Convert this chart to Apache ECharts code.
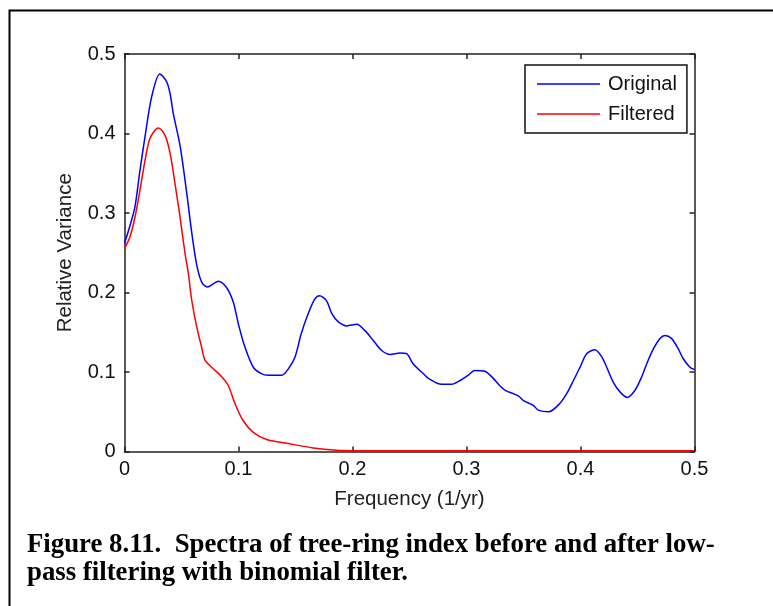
<!DOCTYPE html>
<html>
<head>
<meta charset="utf-8">
<script src="https://cdn.jsdelivr.net/npm/echarts@6/dist/echarts.min.js"></script>
<style>
html,body{margin:0;padding:0;background:#fff;}
#c{width:773px;height:606px;}
</style>
</head>
<body>
<div id="c"></div>
<script>
// Data
var origFreq = [0,0.005,0.0092,0.0136,0.018,0.0238,0.031,0.037,0.040,0.0428,0.0487,0.0546,0.059,0.0633,0.0677,0.0727,0.0823,0.0896,0.0954,0.0998,0.1057,0.113,0.12,0.126,0.138,0.1437,0.1496,0.155,0.161,0.167,0.171,0.177,0.182,0.1876,0.195,0.2037,0.211,0.218,0.2256,0.233,0.2417,0.2475,0.2533,0.2636,0.2665,0.278,0.287,0.294,0.3016,0.307,0.316,0.3235,0.329,0.334,0.3454,0.350,0.3586,0.363,0.372,0.3816,0.388,0.3937,0.3996,0.4054,0.4127,0.4186,0.423,0.4288,0.4346,0.441,0.4478,0.4537,0.458,0.4639,0.4697,0.474,0.48,0.4858,0.490,0.496,0.5];
var origVar = [0.262,0.285,0.308,0.354,0.396,0.446,0.475,0.465,0.450,0.425,0.385,0.325,0.275,0.235,0.213,0.207,0.214,0.206,0.188,0.161,0.131,0.106,0.098,0.096,0.096,0.104,0.119,0.148,0.173,0.192,0.196,0.190,0.173,0.163,0.158,0.160,0.152,0.140,0.127,0.122,0.124,0.123,0.110,0.096,0.092,0.0845,0.0845,0.089,0.096,0.102,0.101,0.092,0.083,0.077,0.070,0.064,0.058,0.052,0.050,0.060,0.073,0.089,0.106,0.123,0.128,0.119,0.106,0.087,0.075,0.068,0.077,0.094,0.110,0.129,0.142,0.146,0.142,0.129,0.117,0.106,0.103];
var filtFreq = [0,0.0048,0.0092,0.0136,0.018,0.0224,0.0297,0.0355,0.040,0.0443,0.0487,0.053,0.056,0.059,0.0633,0.0677,0.0706,0.078,0.0853,0.091,0.097,0.104,0.113,0.1247,0.142,0.1656,0.186,0.2,0.3,0.4,0.5];
var filtVar = [0.255,0.270,0.295,0.329,0.366,0.394,0.407,0.398,0.375,0.337,0.295,0.250,0.224,0.190,0.157,0.131,0.115,0.104,0.094,0.083,0.060,0.039,0.024,0.015,0.0105,0.0045,0.0015,0.001,0.001,0.001,0.001];
var seriesNames = ['Original','Filtered'];
var xTitle = 'Frequency (1/yr)';
var yTitle = 'Relative Variance';
var captionLines = ['Figure 8.11.  Spectra of tree-ring index before and after low-','pass filtering with binomial filter.'];

function pairs(xs, ys){ return xs.map(function(x,i){ return [x, ys[i]]; }); }
function fmt(v){ return v === 0 ? '0' : String(Math.round(v*10)/10); }

var axisCol = '#222';
var font = 'Liberation Sans, Arial, sans-serif';
var tickStyle = {show:true, inside:true, length:5, lineStyle:{color:axisCol, width:1.5}};
var lineStyleAx = {show:true, onZero:false, lineStyle:{color:axisCol, width:1.5}};
var chart = echarts.init(document.getElementById('c'), null, {renderer:'canvas'});
chart.setOption({
  animation:false,
  backgroundColor:'#fff',
  grid:{left:124.5, right:78.5, top:54, bottom:154.5, show:false},
  xAxis:[{
    type:'value', min:0, max:0.5, interval:0.1, position:'bottom',
    name:xTitle, nameLocation:'middle', nameGap:37,
    nameTextStyle:{fontFamily:font, fontSize:20.5, color:'#222'},
    axisLine:lineStyleAx, axisTick:tickStyle,
    axisLabel:{fontFamily:font, fontSize:20, color:'#111', margin:8, formatter:fmt},
    splitLine:{show:false}
  },{
    type:'value', min:0, max:0.5, interval:0.1, position:'top',
    axisLine:lineStyleAx, axisTick:tickStyle,
    axisLabel:{show:false}, splitLine:{show:false}
  }],
  yAxis:[{
    type:'value', min:0, max:0.5, interval:0.1, position:'left',
    name:yTitle, nameLocation:'middle', nameGap:49, nameRotate:90,
    nameTextStyle:{fontFamily:font, fontSize:20.5, color:'#222'},
    axisLine:lineStyleAx, axisTick:tickStyle,
    axisLabel:{fontFamily:font, fontSize:20, color:'#111', margin:9, formatter:fmt},
    splitLine:{show:false}
  },{
    type:'value', min:0, max:0.5, interval:0.1, position:'right',
    axisLine:lineStyleAx, axisTick:tickStyle,
    axisLabel:{show:false}, splitLine:{show:false}
  }],
  legend:{
    orient:'vertical', left:525, top:65,
    backgroundColor:'#fff', borderColor:'#111', borderWidth:1.5,
    padding:[9,10,9,12], itemGap:10, itemWidth:63, itemHeight:1.6,
    icon:'rect',
    textStyle:{fontFamily:font, fontSize:20, color:'#111', padding:[0,0,0,3]},
    data:seriesNames
  },
  series:[
    {name:seriesNames[0], type:'line', data:pairs(origFreq, origVar), symbol:'none', smooth:0.3,
     lineStyle:{color:'#0000ff', width:1.5}, itemStyle:{color:'#0000ff'}, z:5},
    {name:seriesNames[1], type:'line', data:pairs(filtFreq, filtVar), symbol:'none', smooth:0.3,
     lineStyle:{color:'#ff0000', width:1.5}, itemStyle:{color:'#ff0000'}, z:6},
    {name:'_frame', type:'line', xAxisIndex:1, yAxisIndex:1, data:[], symbol:'none', silent:true}
  ],
  graphic:[
    {type:'rect', left:7, top:8, shape:{x:0,y:0,width:900,height:800}, style:{fill:null, stroke:'#000', lineWidth:2}, silent:true, z:-1},
    {type:'text', x:27, y:532, style:{text:captionLines[0], font:'bold 26.8px "Liberation Serif", "Times New Roman", serif', fill:'#000'}},
    {type:'text', x:27, y:560, style:{text:captionLines[1], font:'bold 26.8px "Liberation Serif", "Times New Roman", serif', fill:'#000'}}
  ]
});
</script>
</body>
</html>
